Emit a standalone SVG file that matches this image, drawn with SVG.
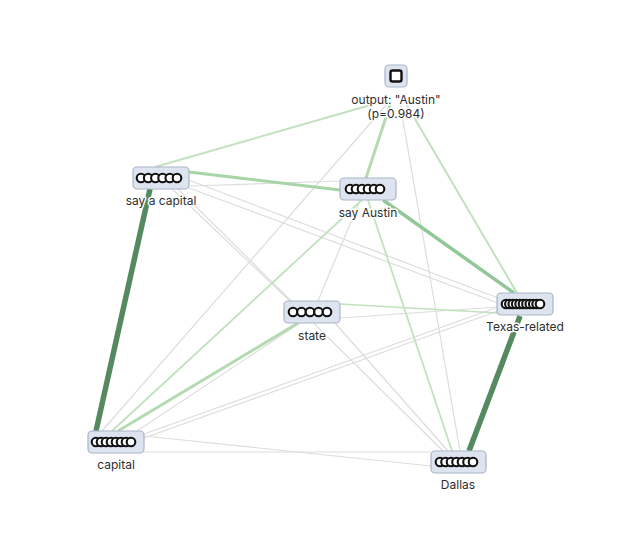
<svg xmlns="http://www.w3.org/2000/svg" width="638" height="544" viewBox="0 0 638 544">
<style>
.bg{fill:#ffffff}
.e{fill:none;stroke-linecap:butt}
.g{stroke:#dddddd;stroke-width:1.2}
.lg{stroke:#c2e1be;stroke-width:2}
.mg{stroke:#92c798;stroke-width:3.5}
.dg{stroke:#55895f;stroke-width:5.5}
.box{fill:#dde4ef;stroke:#a9b5c7;stroke-width:1.2}
.c{fill:#ffffff;stroke:#111111;stroke-width:2.1}
.lbl{font-family:Inter,"Liberation Sans",sans-serif;font-size:12px;fill:#2e2e2e;text-anchor:middle;stroke:#ffffff;stroke-width:3;stroke-linejoin:round;paint-order:stroke}
</style>
<rect class="bg" x="0" y="0" width="638" height="544"/>
<g id="connectors">
  <line class="e g" x1="189" y1="180" x2="498" y2="298"/>
  <line class="e g" x1="189" y1="188" x2="498" y2="303"/>
  <line class="e g" x1="172" y1="189" x2="290" y2="301"/>
  <line class="e g" x1="178" y1="189" x2="443" y2="451"/>
  <line class="e g" x1="190" y1="186" x2="340" y2="181"/>
  <line class="e g" x1="102" y1="431" x2="388" y2="103"/>
  <line class="e g" x1="137" y1="431" x2="300" y2="323"/>
  <line class="e g" x1="144" y1="434" x2="498" y2="307"/>
  <line class="e g" x1="144" y1="438" x2="498" y2="311"/>
  <line class="e g" x1="144" y1="436" x2="431" y2="466"/>
  <line class="e g" x1="144" y1="452" x2="431" y2="452"/>
  <line class="e g" x1="400" y1="103" x2="460" y2="451"/>
  <line class="e g" x1="360" y1="200" x2="318" y2="301"/>
  <line class="e g" x1="340" y1="318" x2="498" y2="307"/>
  <line class="e g" x1="335" y1="323" x2="448" y2="451"/>
  <line class="e lg" x1="155" y1="167" x2="388" y2="100"/>
  <line class="e lg" x1="405" y1="102" x2="517" y2="293"/>
  <line class="e lg" x1="112" y1="431" x2="362" y2="200" style="stroke-width:1.8"/>
  <line class="e lg" x1="368" y1="200" x2="452" y2="451" style="stroke-width:1.8"/>
  <line class="e lg" x1="340" y1="304" x2="498" y2="313" style="stroke-width:1.5"/>
  <line class="e lg" x1="118" y1="431" x2="298" y2="323" style="stroke:#b5dab1;stroke-width:3"/>
  <line class="e lg" x1="366" y1="178" x2="390" y2="105" style="stroke:#b5dab1;stroke-width:3"/>
  <line class="e lg" x1="189" y1="172" x2="340" y2="190" style="stroke:#a8d4a6;stroke-width:3"/>
  <line class="e mg" x1="383" y1="200" x2="514" y2="293"/>
  <line class="e dg" x1="150" y1="189" x2="96" y2="431"/>
  <line class="e dg" x1="520" y1="316" x2="469" y2="451"/>
</g>
<g id="node-output">
  <rect class="box" x="385" y="65" width="22" height="22" rx="4"/>
  <rect x="390.5" y="70.5" width="11" height="11" rx="2" fill="#ffffff" stroke="#111111" stroke-width="2.4"/>
  <text class="lbl" x="396" y="104">output: "Austin"</text>
  <text class="lbl" x="396" y="118">(p=0.984)</text>
</g>
<g id="node-say-a-capital">
  <rect class="box" x="133" y="167" width="56" height="22" rx="4"/>
  <circle class="c" cx="141" cy="178" r="4.3"/>
  <circle class="c" cx="148.2" cy="178" r="4.3"/>
  <circle class="c" cx="155.4" cy="178" r="4.3"/>
  <circle class="c" cx="162.6" cy="178" r="4.3"/>
  <circle class="c" cx="169.8" cy="178" r="4.3"/>
  <circle class="c" cx="177" cy="178" r="4.3"/>
  <text class="lbl" x="161" y="205">say a capital</text>
</g>
<g id="node-say-austin">
  <rect class="box" x="340" y="178" width="56" height="22" rx="4"/>
  <circle class="c" cx="350" cy="189" r="4.3"/>
  <circle class="c" cx="356" cy="189" r="4.3"/>
  <circle class="c" cx="362" cy="189" r="4.3"/>
  <circle class="c" cx="368" cy="189" r="4.3"/>
  <circle class="c" cx="374" cy="189" r="4.3"/>
  <circle class="c" cx="380" cy="189" r="4.3"/>
  <text class="lbl" x="368" y="217">say Austin</text>
</g>
<g id="node-state">
  <rect class="box" x="284" y="301" width="56" height="22" rx="4"/>
  <circle class="c" cx="293" cy="312" r="4.3"/>
  <circle class="c" cx="301.5" cy="312" r="4.3"/>
  <circle class="c" cx="310" cy="312" r="4.3"/>
  <circle class="c" cx="318.5" cy="312" r="4.3"/>
  <circle class="c" cx="327" cy="312" r="4.3"/>
  <text class="lbl" x="312" y="340">state</text>
</g>
<g id="node-texas-related">
  <rect class="box" x="497" y="293" width="56" height="22" rx="4"/>
  <circle class="c" cx="506" cy="304" r="4.3"/>
  <circle class="c" cx="509.4" cy="304" r="4.3"/>
  <circle class="c" cx="512.8" cy="304" r="4.3"/>
  <circle class="c" cx="516.2" cy="304" r="4.3"/>
  <circle class="c" cx="519.6" cy="304" r="4.3"/>
  <circle class="c" cx="523" cy="304" r="4.3"/>
  <circle class="c" cx="526.4" cy="304" r="4.3"/>
  <circle class="c" cx="529.8" cy="304" r="4.3"/>
  <circle class="c" cx="533.2" cy="304" r="4.3"/>
  <circle class="c" cx="536.6" cy="304" r="4.3"/>
  <circle class="c" cx="540" cy="304" r="4.3"/>
  <text class="lbl" x="525" y="331">Texas-related</text>
</g>
<g id="node-capital">
  <rect class="box" x="88" y="431" width="56" height="22" rx="4"/>
  <circle class="c" cx="96" cy="442" r="4.3"/>
  <circle class="c" cx="101" cy="442" r="4.3"/>
  <circle class="c" cx="106" cy="442" r="4.3"/>
  <circle class="c" cx="111" cy="442" r="4.3"/>
  <circle class="c" cx="116" cy="442" r="4.3"/>
  <circle class="c" cx="121" cy="442" r="4.3"/>
  <circle class="c" cx="126" cy="442" r="4.3"/>
  <circle class="c" cx="131" cy="442" r="4.3"/>
  <text class="lbl" x="116" y="469">capital</text>
</g>
<g id="node-dallas">
  <rect class="box" x="431" y="451" width="55" height="22" rx="4"/>
  <circle class="c" cx="440" cy="462" r="4.3"/>
  <circle class="c" cx="445.5" cy="462" r="4.3"/>
  <circle class="c" cx="451" cy="462" r="4.3"/>
  <circle class="c" cx="456.5" cy="462" r="4.3"/>
  <circle class="c" cx="462" cy="462" r="4.3"/>
  <circle class="c" cx="467.5" cy="462" r="4.3"/>
  <circle class="c" cx="473" cy="462" r="4.3"/>
  <text class="lbl" x="458" y="489">Dallas</text>
</g>
</svg>
